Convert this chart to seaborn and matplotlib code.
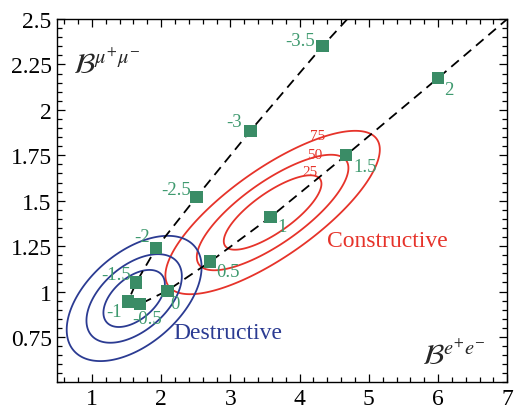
import numpy as np
import pandas as pd
import matplotlib
matplotlib.use("Agg")
import matplotlib.pyplot as plt
import seaborn as sns
from matplotlib.ticker import FixedLocator, MultipleLocator, FuncFormatter

# ---------------- data ----------------
params = [-3.5, -3, -2.5, -2, -1.5, -1, -0.5, 0, 0.5, 1, 1.5, 2]
param_labels = ["-3.5", "-3", "-2.5", "-2", "-1.5", "-1", "-0.5", "0", "0.5", "1", "1.5", "2"]
b_ee = [4.33, 3.29, 2.51, 1.93, 1.64, 1.52, 1.69, 2.09, 2.71, 3.58, 4.67, 6.00]
b_mumu = [2.35, 1.885, 1.52, 1.24, 1.05, 0.945, 0.93, 1.005, 1.165, 1.41, 1.75, 2.175]
# where the dashed curve leaves the frame at both ends
curve_start_ee, curve_start_mumu = [4.69], [2.5]
curve_end_ee, curve_end_mumu = [7.0], [2.5]

x_ticks = [1, 2, 3, 4, 5, 6, 7]
y_ticks = [0.75, 1, 1.25, 1.5, 1.75, 2, 2.25, 2.5]

contour_levels = [25, 50, 75]          # percent
constructive_center = (3.61, 1.435)
constructive_sigma = (0.93, 0.27)
constructive_rho = 0.77
destructive_center = (1.61, 0.962)
destructive_sigma = (0.585, 0.207)
destructive_rho = 0.5

# ---------------- styling ----------------
GREEN = "#3a8c66"
GREEN_TXT = "#3f9a6f"
RED = "#e6332a"
BLUE = "#2b3b92"

sns.set_theme(style="ticks")
plt.rcParams["font.family"] = ["Liberation Serif", "DejaVu Serif"]
plt.rcParams["mathtext.fontset"] = "stix"

fig = plt.figure(figsize=(5.16, 4.10), dpi=100)
ax = fig.add_axes([57.3 / 516, 26.6 / 410, 450 / 516, 363.4 / 410])

# contours (Gaussian probability ellipses)
gx = np.linspace(0.5, 7, 700)
gy = np.linspace(0.5, 2.5, 500)
GX, GY = np.meshgrid(gx, gy)
radii = [np.sqrt(-2 * np.log(1 - p / 100)) for p in contour_levels]


def maha(center, sigma, rho):
    dx = (GX - center[0]) / sigma[0]
    dy = (GY - center[1]) / sigma[1]
    return np.sqrt((dx ** 2 - 2 * rho * dx * dy + dy ** 2) / (1 - rho ** 2))


ax.contour(GX, GY, maha(constructive_center, constructive_sigma, constructive_rho),
           levels=radii, colors=RED, linewidths=1.3, zorder=2)
ax.contour(GX, GY, maha(destructive_center, destructive_sigma, destructive_rho),
           levels=radii, colors=BLUE, linewidths=1.3, zorder=2)

# dashed curve through the parameter points
curve = pd.DataFrame({
    "ee": curve_start_ee + b_ee + curve_end_ee,
    "mumu": curve_start_mumu + b_mumu + curve_end_mumu,
})
sns.lineplot(data=curve, x="ee", y="mumu", sort=False, estimator=None, ax=ax,
             color="black", linewidth=1.3, linestyle=(0, (5.5, 3.5)), zorder=3)

pts = pd.DataFrame({"ee": b_ee, "mumu": b_mumu, "param": params})
sns.scatterplot(data=pts, x="ee", y="mumu", marker="s", s=78, color=GREEN,
                edgecolor="none", linewidth=0, ax=ax, zorder=4, legend=False)

# label offsets in pixels (dx, dy, ha, va)
label_layout = [
    (-7, 6, "right", "center"),
    (-9, 9, "right", "center"),
    (-5, 8, "right", "center"),
    (-6, 11, "right", "center"),
    (-5, 8, "right", "center"),
    (-6, -10, "right", "center"),
    (7, -14, "center", "center"),
    (3, -13, "left", "center"),
    (6, -10, "left", "center"),
    (7, -9, "left", "center"),
    (7, -11, "left", "center"),
    (6, -11, "left", "center"),
]
for x, y, lab, (dx, dy, ha, va) in zip(b_ee, b_mumu, param_labels, label_layout):
    ax.annotate(lab, (x, y), xytext=(dx, dy), textcoords="offset pixels",
                ha=ha, va=va, fontsize=13.5, color=GREEN_TXT, zorder=5)

# contour level labels
level_label_pos = [(4.145, 1.658), (4.217, 1.757), (4.265, 1.858)]
for lev, (x, y) in zip(contour_levels, level_label_pos):
    ax.text(x, y, str(lev), fontsize=11, color=RED, ha="center", va="center", zorder=5)

ax.text(4.394, 1.252, "Constructive", fontsize=17, color=RED, ha="left", va="baseline")
ax.text(2.173, 0.743, "Destructive", fontsize=17, color=BLUE, ha="left", va="baseline")

ax.text(0.0356, 0.851, r"$\mathcal{B}^{\mu^{+}\mu^{-}}$", transform=ax.transAxes,
        fontsize=21, ha="left", va="baseline")
ax.text(0.81, 0.0506, r"$\mathcal{B}^{e^{+}e^{-}}$", transform=ax.transAxes,
        fontsize=21, ha="left", va="baseline")

# axes
ax.set_xlim(0.5, 7)
ax.set_ylim(0.5, 2.5)
ax.set_xlabel("")
ax.set_ylabel("")
ax.xaxis.set_major_locator(FixedLocator(x_ticks))
ax.yaxis.set_major_locator(FixedLocator(y_ticks))
ax.xaxis.set_minor_locator(MultipleLocator(0.2))
ax.yaxis.set_minor_locator(MultipleLocator(0.05))
fmt = FuncFormatter(lambda v, p: f"{v:g}")
ax.xaxis.set_major_formatter(fmt)
ax.yaxis.set_major_formatter(fmt)
ax.tick_params(which="both", direction="in", top=True, right=True, colors="black",
               labelsize=17, width=0.9)
ax.tick_params(which="major", length=6, pad=4)
ax.tick_params(which="minor", length=3.5)
for sp in ax.spines.values():
    sp.set_visible(True)
    sp.set_linewidth(1.0)
    sp.set_color("black")

fig.savefig("out.png", dpi=100)
